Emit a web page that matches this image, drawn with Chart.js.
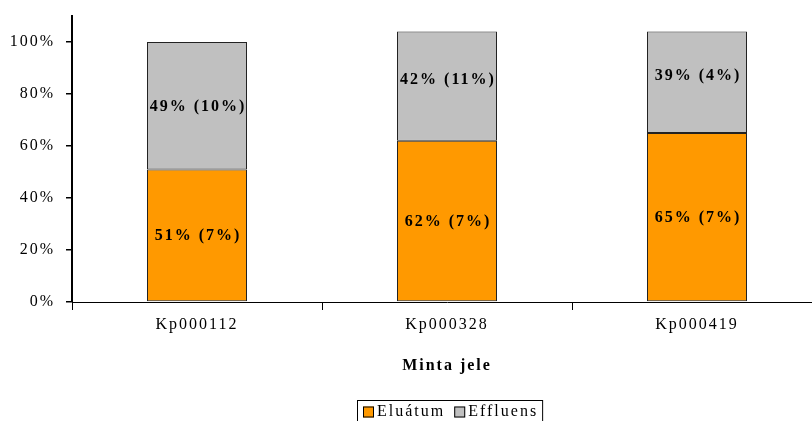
<!DOCTYPE html>
<html>
<head>
<meta charset="utf-8">
<script src="https://cdn.jsdelivr.net/npm/chart.js@4/dist/chart.umd.min.js"></script>
<style>
  html, body { margin: 0; padding: 0; background: #fff; }
  #wrap { width: 812px; height: 421px; overflow: hidden; position: relative; }
  canvas { display: block; }
</style>
</head>
<body>
<div id="wrap"><canvas id="c" width="830" height="432"></canvas></div>
<script>
// Sample codes on the x axis
const categories = ['Kp000112', 'Kp000328', 'Kp000419'];
// Share of the total (%) and its deviation (%) for each fraction
const eluatum = [51, 62, 65];
const eluatumSd = [7, 7, 7];
const effluens = [49, 42, 39];
const effluensSd = [10, 11, 4];
const seriesNames = ['Eluátum', 'Effluens'];
const yTicks = [0, 20, 40, 60, 80, 100];
const xTitle = 'Minta jele';

const FONT = "'Liberation Serif', 'Times New Roman', serif";
const SPACING = '2px';

// Canvas letter spacing resets when the canvas is resized, so reapply it
const spacingPlugin = {
  id: 'spacing',
  beforeLayout(chart) { chart.ctx.letterSpacing = SPACING; },
  beforeDraw(chart) { chart.ctx.letterSpacing = SPACING; }
};

// "value% (deviation%)" inside each segment; a segment running past 100%
// gets its label centred in the space between its base and the top of the axis
const valueLabels = {
  id: 'valueLabels',
  afterDatasetsDraw(chart) {
    const ctx = chart.ctx;
    const yScale = chart.scales.y;
    const full = yScale.getPixelForValue(100);
    ctx.save();
    ctx.letterSpacing = SPACING;
    ctx.font = 'bold 16px ' + FONT;
    ctx.fillStyle = '#000';
    ctx.textAlign = 'center';
    ctx.textBaseline = 'middle';
    chart.data.datasets.forEach((ds, di) => {
      chart.getDatasetMeta(di).data.forEach((el, i) => {
        const txt = ds.data[i] + '% (' + ds.sd[i] + '%)';
        const top = el.y < full - 1 ? chart.chartArea.top : el.y;
        ctx.fillText(txt, el.x + 1, (top + el.base) / 2 + 1);
      });
    });
    ctx.restore();
  }
};

// Boxed legend below the axis title
const boxLegend = {
  id: 'boxLegend',
  afterDraw(chart) {
    const ctx = chart.ctx;
    ctx.save();
    ctx.letterSpacing = SPACING;
    ctx.font = '16px ' + FONT;
    ctx.textBaseline = 'middle';
    const box = 11, gapText = 3, gapItem = 9, pad = 5;
    const items = chart.data.datasets.map(ds => ({
      label: ds.label, color: ds.backgroundColor,
      w: box + gapText + ctx.measureText(ds.label).width
    }));
    const total = items.reduce((s, it) => s + it.w, 0) + gapItem * (items.length - 1);
    const area = chart.chartArea;
    const cx = (area.left + area.right) / 2 + 4;
    let x = Math.round(cx - total / 2);
    const top = 400, cy = 412;
    ctx.strokeStyle = '#000';
    ctx.lineWidth = 1;
    ctx.strokeRect(x - pad - 0.5, top + 0.5, total + pad * 2, 30);
    items.forEach(it => {
      ctx.fillStyle = it.color;
      ctx.fillRect(x, cy - 5.5, box, box);
      ctx.strokeStyle = '#000';
      ctx.strokeRect(x + 0.5, cy - 5, box - 1, box - 1);
      ctx.fillStyle = '#000';
      ctx.textAlign = 'left';
      ctx.fillText(it.label, x + box + gapText, cy);
      x += it.w + gapItem;
    });
    ctx.restore();
  }
};

new Chart(document.getElementById('c'), {
  type: 'bar',
  data: {
    labels: categories,
    datasets: [
      { label: seriesNames[0], data: eluatum, sd: eluatumSd, backgroundColor: '#FF9900',
        borderColor: '#222', borderWidth: 1, borderSkipped: false },
      { label: seriesNames[1], data: effluens, sd: effluensSd, backgroundColor: '#C0C0C0',
        borderColor: '#222', borderWidth: 1, borderSkipped: false }
    ]
  },
  options: {
    responsive: false,
    animation: false,
    events: [],
    layout: { padding: { top: 16, right: 8, left: 0, bottom: 42 } },
    datasets: { bar: { categoryPercentage: 1, barPercentage: 0.4 } },
    plugins: { legend: { display: false }, tooltip: { enabled: false } },
    scales: {
      x: {
        stacked: true,
        border: { display: true, color: '#000', width: 1 },
        grid: { display: true, drawOnChartArea: false, drawTicks: true, tickLength: 8, color: '#000', offset: true },
        ticks: { color: '#000', font: { family: FONT, size: 16 }, padding: 5, maxRotation: 0 },
        title: { display: true, text: xTitle, color: '#000',
                 font: { family: FONT, size: 16, weight: 'bold' }, padding: { top: 0, bottom: 15 } },
        afterFit(scale) { scale.height = 88; }
      },
      y: {
        stacked: true,
        min: 0, max: 110,
        border: { display: true, color: '#000', width: 2 },
        grid: { display: true, drawOnChartArea: false, drawTicks: true, tickLength: 6, color: '#000', lineWidth: 1.5 },
        ticks: { color: '#000', font: { family: FONT, size: 16 }, padding: 11,
                 callback: v => v + '%' },
        afterBuildTicks(scale) { scale.ticks = yTicks.map(v => ({ value: v })); },
        afterFit(scale) { scale.width = 72; scale.paddingTop = 0; scale.paddingBottom = 0; }
      }
    }
  },
  plugins: [spacingPlugin, valueLabels, boxLegend]
});
</script>
</body>
</html>
